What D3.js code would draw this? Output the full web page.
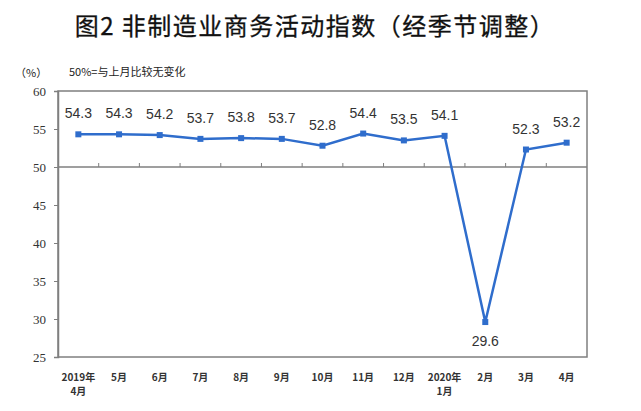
<!DOCTYPE html>
<html>
<head>
<meta charset="utf-8">
<script src="https://cdn.jsdelivr.net/npm/d3@7"></script>
<style>
  body { margin: 0; background: #fff; }
  svg { display: block; }
</style>
</head>
<body>
<svg id="chart" width="641" height="411"></svg>
<script>
// months on the x axis (two lines where a year starts)
const monthLabels = [
    ["2019年", "4月"], ["5月"], ["6月"], ["7月"], ["8月"], ["9月"], ["10月"],
    ["11月"], ["12月"], ["2020年", "1月"], ["2月"], ["3月"], ["4月"]
];
const indexValues = [54.3, 54.3, 54.2, 53.7, 53.8, 53.7, 52.8, 54.4, 53.5, 54.1, 29.6, 52.3, 53.2];
const yTicks = [25, 30, 35, 40, 45, 50, 55, 60];

const svg = d3.select('#chart');
const plotLeft = 58, plotRight = 587, plotTop = 91, plotBottom = 357;
const lineColour = "#2f6dcc";
const cjk = "'Noto Sans CJK SC', sans-serif";

const x = d3.scaleBand()
    .domain(d3.range(indexValues.length))
    .range([plotLeft, plotRight]);
const y = d3.scaleLinear()
    .domain([25, 60])
    .range([plotBottom, plotTop]);

// title
svg.append("text")
    .attr("x", 315).attr("y", 35)
    .attr("text-anchor", "middle")
    .style("font-family", cjk)
    .style("font-size", "24px")
    .style("letter-spacing", "1.5px")
    .attr("fill", "#111")
    .attr("stroke", "#111")
    .attr("stroke-width", 0.3)
    .text("图2 非制造业商务活动指数（经季节调整）");

svg.append("text")
    .attr("x", 15).attr("y", 77)
    .style("font-family", cjk)
    .style("font-size", "11px")
    .attr("fill", "#222")
    .text("（%）");
svg.append("text")
    .attr("x", 69).attr("y", 76)
    .style("font-family", cjk)
    .style("font-size", "11px")
    .attr("fill", "#222")
    .text("50%=与上月比较无变化");

// plot frame
svg.append("rect")
    .attr("x", plotLeft).attr("y", plotTop)
    .attr("width", plotRight - plotLeft).attr("height", plotBottom - plotTop)
    .attr("fill", "none")
    .attr("stroke", "#7f7f7f")
    .attr("stroke-width", 1.5);

// y axis
const yAxis = svg.append("g")
    .attr("transform", `translate(${plotLeft},0)`)
    .call(d3.axisLeft(y).tickValues(yTicks).tickSize(4).tickPadding(8));
yAxis.select(".domain").attr("stroke", "#7f7f7f").attr("stroke-width", 1.5);
yAxis.selectAll(".tick line").attr("stroke", "#7f7f7f");
yAxis.selectAll(".tick text")
    .style("font-family", "'Liberation Serif', serif")
    .style("font-size", "13px")
    .attr("fill", "#333");

// 50 line with category ticks pointing up
svg.append("line")
    .attr("x1", plotLeft).attr("x2", plotRight)
    .attr("y1", y(50)).attr("y2", y(50))
    .attr("stroke", "#7f7f7f")
    .attr("stroke-width", 1.5);
svg.selectAll("line.cat")
    .data(d3.range(1, indexValues.length))
    .enter().append("line")
    .attr("class", "cat")
    .attr("x1", d => x(d)).attr("x2", d => x(d))
    .attr("y1", y(50)).attr("y2", y(50) - 4)
    .attr("stroke", "#7f7f7f");

// x labels
const xl = svg.selectAll("text.xl")
    .data(monthLabels)
    .enter().append("text")
    .attr("class", "xl")
    .attr("text-anchor", "middle")
    .attr("x", (d, i) => x(i) + x.bandwidth() / 2)
    .attr("y", 381)
    .style("font-family", cjk)
    .style("font-size", "10px")
    .style("font-weight", "bold")
    .attr("fill", "#333");
xl.selectAll("tspan")
    .data(d => d)
    .enter().append("tspan")
    .attr("x", function () { return d3.select(this.parentNode).attr("x"); })
    .attr("dy", (d, i) => i === 0 ? 0 : 14)
    .text(d => d);

// line
const line = d3.line()
    .x((d, i) => x(i) + x.bandwidth() / 2)
    .y(d => y(d));
svg.append("path")
    .datum(indexValues)
    .attr("d", line)
    .attr("fill", "none")
    .attr("stroke", lineColour)
    .attr("stroke-width", 2.5);

svg.selectAll("rect.pt")
    .data(indexValues)
    .enter().append("rect")
    .attr("class", "pt")
    .attr("x", (d, i) => x(i) + x.bandwidth() / 2 - 3)
    .attr("y", d => y(d) - 3)
    .attr("width", 6).attr("height", 6)
    .attr("fill", lineColour);

// value labels
svg.selectAll("text.val")
    .data(indexValues)
    .enter().append("text")
    .attr("class", "val")
    .attr("text-anchor", "middle")
    .attr("x", (d, i) => x(i) + x.bandwidth() / 2)
    .attr("y", d => d < 40 ? y(d) + 24 : y(d) - 16)
    .style("font-family", "'Liberation Sans', Arial, sans-serif")
    .style("font-size", "14px")
    .attr("fill", "#333")
    .text(d => d.toFixed(1));
</script>
</body>
</html>
